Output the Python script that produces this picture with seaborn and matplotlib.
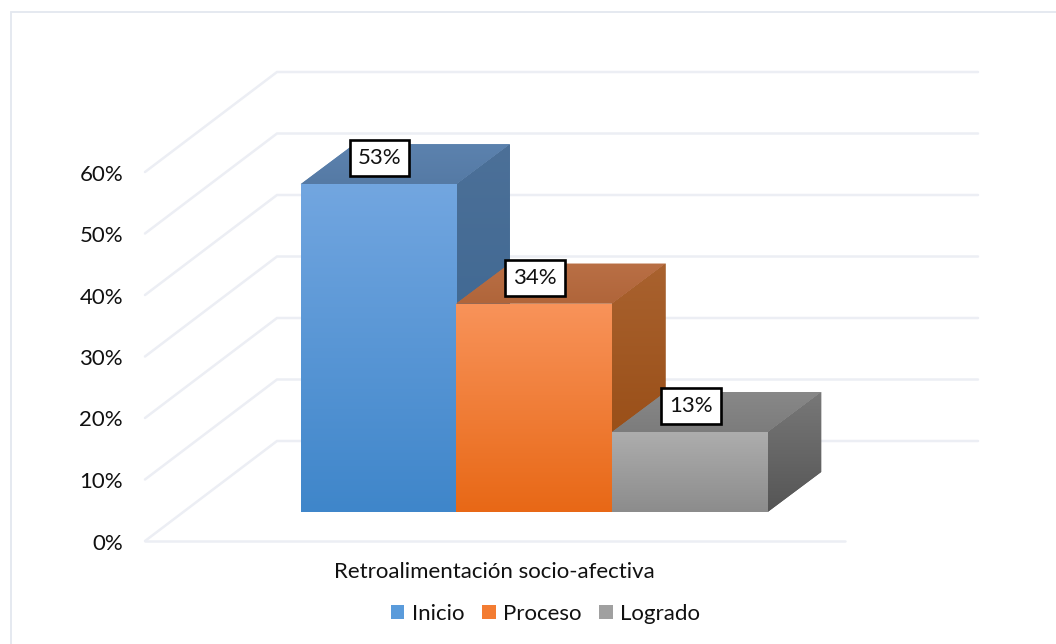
import numpy as np
import pandas as pd
import matplotlib
matplotlib.use("Agg")
import matplotlib.pyplot as plt
from matplotlib.colors import to_rgb
from matplotlib.patches import Polygon, Rectangle
import seaborn as sns

categories = ["Inicio", "Proceso", "Logrado"]
values = [53.3, 33.9, 13.0]
value_labels = ["53%", "34%", "13%"]
axis_title = "Retroalimentación socio-afectiva"
tick_values = [0, 10, 20, 30, 40, 50, 60]

front_top = ["#72A6E0", "#F8935A", "#ADADAD"]
front_bottom = ["#3F86CA", "#E86816", "#8C8C8C"]
top_light = ["#5C82AE", "#B96F45", "#888888"]
top_dark = ["#557AA5", "#B0653A", "#7C7C7C"]
side_top = ["#4C7098", "#A9622F", "#787878"]
side_bottom = ["#36628E", "#93470E", "#555555"]
grid_color = "#ECEEF4"
frame_color = "#E3E7EF"

sns.set_theme(style="white")
plt.rcParams["font.family"] = ["Lato", "DejaVu Sans"]

# pixel scale of the drawing: one category = 155.67 px, 1% = 6.15 px
px_x = 155.67
px_y = 6.15
x0_px = 378.5
y0_px = 512


def dx(px):
    return px / px_x


def dy(px):
    return px / px_y


def fill_gradient(ax, patch, c_top, c_bottom, zorder):
    box = patch.get_path().transformed(patch.get_patch_transform()).get_extents()
    colors = np.linspace(to_rgb(c_bottom), to_rgb(c_top), 128).reshape(128, 1, 3)
    im = ax.imshow(colors, extent=(box.x0, box.x1, box.y0, box.y1), origin="lower",
                   aspect="auto", interpolation="bilinear", zorder=zorder)
    im.set_clip_path(patch)


df = pd.DataFrame({"nivel": categories, "valor": values})

fig = plt.figure(figsize=(10.56, 6.44), dpi=100)
ax = fig.add_axes([0, 0, 1, 1])

sns.barplot(data=df, x="nivel", y="valor", hue="nivel", hue_order=categories,
            palette=front_bottom, width=1, dodge=False, saturation=1,
            legend=True, ax=ax, linewidth=0)

depth_x = dx(53.5)
depth_y = dy(40)

# walls and floor behind the bars
left_front = dx(145 - x0_px)
left_back = dx(277 - x0_px)
right_back = dx(978 - x0_px)
right_front = dx(845 - x0_px)
floor_front = dy(512 - 541)
floor_back = dy(512 - 441)

for t in tick_values:
    ax.plot([left_front, left_back, right_back],
            [floor_front + t, floor_back + t, floor_back + t],
            color=grid_color, lw=1.8, zorder=1, solid_joinstyle="miter")
    ax.text(dx(123 - x0_px), floor_front + t - dy(2.5), f"{t}%", ha="right", va="center",
            fontsize=16, color="#111111")
ax.plot([left_front, right_front], [floor_front, floor_front], color=grid_color, lw=1.8, zorder=1)

for i, bar in enumerate(b for c in ax.containers for b in c):
    x1 = bar.get_x()
    x2 = x1 + bar.get_width()
    h = bar.get_height()
    z = 3 + i * 2
    bar.set_zorder(z + 1)

    side = Polygon([(x2, 0), (x2 + depth_x, depth_y), (x2 + depth_x, h + depth_y), (x2, h)],
                   closed=True, fc=side_bottom[i], ec="none", zorder=z)
    top = Polygon([(x1, h), (x1 + depth_x, h + depth_y), (x2 + depth_x, h + depth_y), (x2, h)],
                  closed=True, fc=top_light[i], ec="none", zorder=z)
    ax.add_patch(side)
    ax.add_patch(top)
    fill_gradient(ax, side, side_top[i], side_bottom[i], z)
    fill_gradient(ax, top, top_light[i], top_dark[i], z)
    fill_gradient(ax, bar, front_top[i], front_bottom[i], z + 1)

    ax.text(i + dx(1), h + dy(26), value_labels[i], ha="center", va="center", fontsize=16,
            color="#111111", zorder=20,
            bbox=dict(boxstyle="square,pad=0.36", fc="white", ec="black", lw=1.9))

ax.text(dx(494.5 - x0_px), dy(y0_px - 572), axis_title, ha="center", va="center",
        fontsize=16, color="#111111")

# outer frame only shows on the left and top
ax.add_patch(Rectangle((dx(10.5 - x0_px), dy(y0_px - 700)), dx(1200), dy(688), fill=False,
                       ec=frame_color, lw=1.3, zorder=0))

handles, labels = ax.get_legend_handles_labels()
for h, c in zip(handles, ["#5A9BDB", "#F37C32", "#A0A0A0"]):
    h.set_facecolor(c)
ax.legend(handles, labels, ncol=3, frameon=False, loc="center", fontsize=16,
          bbox_to_anchor=(545.5 / 1056, 1 - 614 / 644), handlelength=0.62, handleheight=0.62,
          handletextpad=0.33, columnspacing=0.8, labelcolor="#111111")

ax.set_xlim(-x0_px / px_x, (1056 - x0_px) / px_x)
ax.set_ylim((y0_px - 644) / px_y, y0_px / px_y)
ax.axis("off")

fig.savefig("out.png", dpi=100, facecolor="white")
